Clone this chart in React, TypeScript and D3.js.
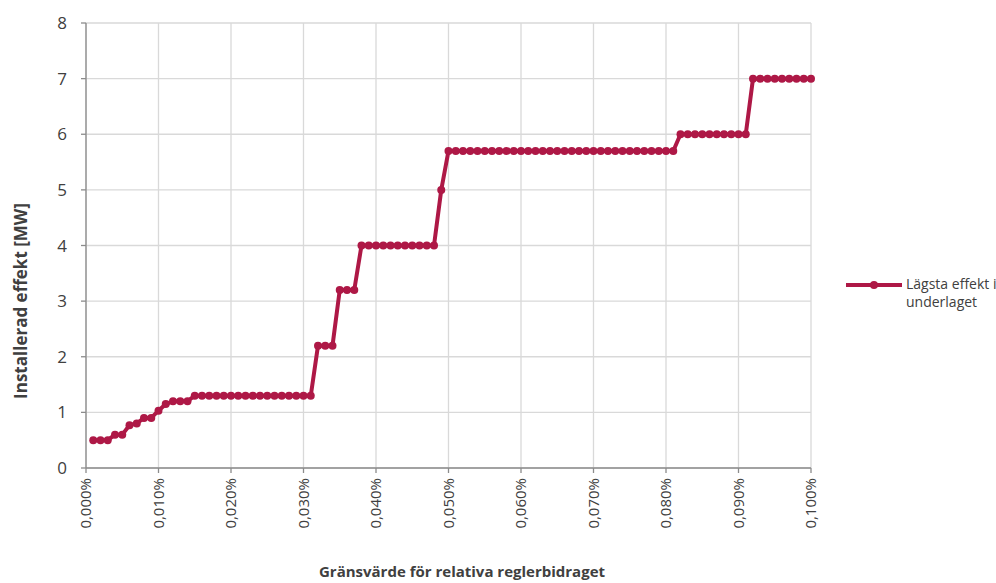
import React from "react";
import * as d3 from "d3";

const xValues: number[] = Array.from({ length: 100 }, (_, i) => +((i + 1) * 0.001).toFixed(3));
const yValues: number[] = [
  0.5, 0.5, 0.5, 0.6, 0.6, 0.77, 0.8, 0.9, 0.9, 1.03,
  1.15, 1.2, 1.2, 1.2, 1.3, 1.3, 1.3, 1.3, 1.3, 1.3,
  1.3, 1.3, 1.3, 1.3, 1.3, 1.3, 1.3, 1.3, 1.3, 1.3,
  1.3, 2.2, 2.2, 2.2, 3.2, 3.2, 3.2, 4, 4, 4,
  4, 4, 4, 4, 4, 4, 4, 4, 5, 5.7,
  5.7, 5.7, 5.7, 5.7, 5.7, 5.7, 5.7, 5.7, 5.7, 5.7,
  5.7, 5.7, 5.7, 5.7, 5.7, 5.7, 5.7, 5.7, 5.7, 5.7,
  5.7, 5.7, 5.7, 5.7, 5.7, 5.7, 5.7, 5.7, 5.7, 5.7,
  5.7, 6, 6, 6, 6, 6, 6, 6, 6, 6,
  6, 7, 7, 7, 7, 7, 7, 7, 7, 7,
];
const xTicks: number[] = [0, 0.01, 0.02, 0.03, 0.04, 0.05, 0.06, 0.07, 0.08, 0.09, 0.1];
const yTicks: number[] = [0, 1, 2, 3, 4, 5, 6, 7, 8];

const W = 996, H = 583;
const COLOR = "#AE1846";
const FONT = "'Open Sans', 'Noto Sans', sans-serif";

export default function App() {
  const x = d3.scaleLinear().domain([0, 0.1]).range([86, 811]);
  const y = d3.scaleLinear().domain([0, 8]).range([468, 23]);
  const line = d3.line<number>().x((_, i) => x(xValues[i])).y((d) => y(d));
  const fmt = (v: number) => v.toFixed(3).replace(".", ",") + "%";
  return (
    <svg width={W} height={H} style={{ position: "absolute", left: 0, top: 0, background: "#fff" }}>
      {yTicks.map((t) => (
        <line key={"gy" + t} x1={x(0)} x2={x(0.1)} y1={y(t)} y2={y(t)} stroke="#d9d9d9" strokeWidth={1.3} />
      ))}
      {xTicks.map((t) => (
        <line key={"gx" + t} x1={x(t)} x2={x(t)} y1={y(0)} y2={y(8)} stroke="#d9d9d9" strokeWidth={1.3} />
      ))}
      <line x1={x(0)} x2={x(0)} y1={y(0)} y2={y(8)} stroke="#8c8c8c" strokeWidth={1.3} />
      <line x1={x(0)} x2={x(0.1)} y1={y(0)} y2={y(0)} stroke="#8c8c8c" strokeWidth={1.3} />
      {yTicks.map((t) => (
        <line key={"ty" + t} x1={x(0) - 5} x2={x(0)} y1={y(t)} y2={y(t)} stroke="#8c8c8c" strokeWidth={1.3} />
      ))}
      {xTicks.map((t) => (
        <line key={"tx" + t} x1={x(t)} x2={x(t)} y1={y(0)} y2={y(0) + 5} stroke="#8c8c8c" strokeWidth={1.3} />
      ))}
      {yTicks.map((t) => (
        <text key={"ly" + t} x={x(0) - 19} y={y(t)} dy="0.36em" textAnchor="end" fontFamily={FONT} fontSize={17} fill="#404040">
          {t}
        </text>
      ))}
      {xTicks.map((t) => (
        <text key={"lx" + t} transform={`translate(${x(t)},${y(0) + 10}) rotate(-90)`} dy="0.36em" textAnchor="end" fontFamily={FONT} fontSize={15} fill="#404040">
          {fmt(t)}
        </text>
      ))}
      <path d={line(yValues) || ""} fill="none" stroke={COLOR} strokeWidth={4} strokeLinejoin="round" />
      {yValues.map((v, i) => (
        <circle key={"p" + i} cx={x(xValues[i])} cy={y(v)} r={4} fill={COLOR} />
      ))}
      <text transform={`translate(27,301) rotate(-90)`} textAnchor="middle" fontFamily={FONT} fontWeight="bold" fontSize={17} fill="#404040">
        Installerad effekt [MW]
      </text>
      <text x={462} y={577} textAnchor="middle" fontFamily={FONT} fontWeight="bold" fontSize={15} fill="#404040">
        Gränsvärde för relativa reglerbidraget
      </text>
      <line x1={846} x2={902} y1={285} y2={285} stroke={COLOR} strokeWidth={4} />
      <circle cx={874} cy={285} r={4} fill={COLOR} />
      <text x={906} y={289} fontFamily={FONT} fontSize={14} fill="#404040">Lägsta effekt i</text>
      <text x={906} y={307} fontFamily={FONT} fontSize={14} fill="#404040">underlaget</text>
    </svg>
  );
}
